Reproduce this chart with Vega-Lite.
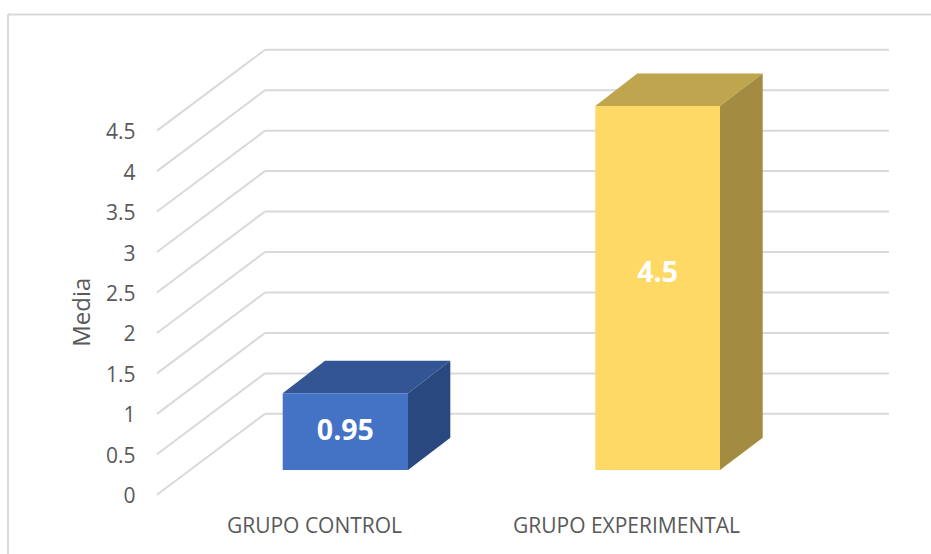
{
"$schema":"https://vega.github.io/schema/vega-lite/v6.json",
"width":732,"height":445,
"autosize":{"type":"none"},
"padding":{"left":157,"top":49.75,"right":42,"bottom":59.25},
"background":"white",
"config":{"view":{"stroke":null},"font":"Open Sans"},
"datasets":{
"wall":[
{"v":1.0,"xa":0.8429,"xb":2.8429},{"v":1.5,"xa":0.8429,"xb":2.8429},{"v":2.0,"xa":0.8429,"xb":2.8429},{"v":2.5,"xa":0.8429,"xb":2.8429},{"v":3.0,"xa":0.8429,"xb":2.8429},{"v":3.5,"xa":0.8429,"xb":2.8429},{"v":4.0,"xa":0.8429,"xb":2.8429},{"v":4.5,"xa":0.8429,"xb":2.8429},{"v":5.0,"xa":0.8429,"xb":2.8429},{"v":5.5,"xa":0.8429,"xb":2.8429}
],
"diag":[
{"xa":0.4968,"xb":0.8429,"ya":0,"yb":1.0},{"xa":0.4968,"xb":0.8429,"ya":0.5,"yb":1.5},{"xa":0.4968,"xb":0.8429,"ya":1,"yb":2.0},{"xa":0.4968,"xb":0.8429,"ya":1.5,"yb":2.5},{"xa":0.4968,"xb":0.8429,"ya":2,"yb":3.0},{"xa":0.4968,"xb":0.8429,"ya":2.5,"yb":3.5},{"xa":0.4968,"xb":0.8429,"ya":3,"yb":4.0},{"xa":0.4968,"xb":0.8429,"ya":3.5,"yb":4.5},{"xa":0.4968,"xb":0.8429,"ya":4,"yb":5.0},{"xa":0.4968,"xb":0.8429,"ya":4.5,"yb":5.5}
],
"front":[
{"grupo":"GRUPO CONTROL","media":0.95,"xl":0.8997,"xr":1.3013,"base":0.305,"top":1.255,"xc":1.1005,"yc":0.79},
{"grupo":"GRUPO EXPERIMENTAL","media":4.5,"xl":1.9016,"xr":2.3013,"base":0.305,"top":4.805,"xc":2.1015,"yc":2.745}
],
"topface":[
{"face":"topA","y":1.255,"xl":0.8997,"xr":1.3013},{"face":"topA","y":1.655,"xl":1.0353,"xr":1.4369},
{"face":"topB","y":4.805,"xl":1.9016,"xr":2.3013},{"face":"topB","y":5.205,"xl":2.0362,"xr":2.4381}
],
"sideface":[
{"face":"sideA","x":1.3013,"yb":0.305,"yt":1.255},{"face":"sideA","x":1.4369,"yb":0.705,"yt":1.655},
{"face":"sideB","x":2.3013,"yb":0.305,"yt":4.805},{"face":"sideB","x":2.4381,"yb":0.705,"yt":5.205}
],
"frame":[
{"xa":0.0192,"xb":2.9776,"ya":5.936,"yb":5.936},
{"xa":0.0192,"xb":0.0192,"ya":5.936,"yb":-0.733}
]
},
"data":{"name":"wall"},
"layer":[
{"data":{"name":"frame"},"mark":{"type":"rule","color":"#d9d9d9","strokeWidth":2,"clip":false},
 "encoding":{"x":{"field":"xa","type":"quantitative","scale":{"domain":[0.4968,2.8429],"nice":false,"zero":false},
   "axis":{"values":[1,2],"labelExpr":"datum.value==1?'GRUPO CONTROL':'GRUPO EXPERIMENTAL'","title":null,"grid":false,"domain":false,"ticks":false,"labelPadding":31.5,"labelFontSize":21,"labelLimit":400,"labelColor":"#595959","labelFont":"Open Sans","labelBaseline":"middle"}},
  "x2":{"field":"xb"},
  "y":{"field":"ya","type":"quantitative","scale":{"domain":[0,5.5],"nice":false,"zero":false},
   "axis":{"values":[0,0.5,1,1.5,2,2.5,3,3.5,4,4.5],"format":"~g","title":"Media","grid":false,"domain":false,"ticks":false,"labelPadding":22,"labelOffset":2,"labelFontSize":21,"labelColor":"#595959","labelFont":"Open Sans","titleFontSize":24,"titleFontWeight":"normal","titleColor":"#595959","titleFont":"Open Sans","titleX":-75,"titleY":262,"titleAngle":-90,"titleAlign":"center","titleBaseline":"middle"}},
  "y2":{"field":"yb"}}},
{"mark":{"type":"rule","color":"#d9d9d9","strokeWidth":2},
 "encoding":{"x":{"field":"xa","type":"quantitative"},"x2":{"field":"xb"},"y":{"field":"v","type":"quantitative"}}},
{"data":{"name":"diag"},"mark":{"type":"rule","color":"#d9d9d9","strokeWidth":2},
 "encoding":{"x":{"field":"xa","type":"quantitative"},"x2":{"field":"xb"},"y":{"field":"ya","type":"quantitative"},"y2":{"field":"yb"}}},
{"data":{"name":"topface"},"mark":{"type":"area","orient":"horizontal"},
 "encoding":{"y":{"field":"y","type":"quantitative"},"x":{"field":"xl","type":"quantitative"},"x2":{"field":"xr"},
  "color":{"field":"face","type":"nominal","legend":null,"scale":{"domain":["topA","topB","sideA","sideB"],"range":["#335593","#bfa54d","#2a4880","#a38c42"]}}}},
{"data":{"name":"sideface"},"mark":{"type":"area","orient":"vertical"},
 "encoding":{"x":{"field":"x","type":"quantitative"},"y":{"field":"yb","type":"quantitative"},"y2":{"field":"yt"},
  "color":{"field":"face","type":"nominal","legend":null}}},
{"data":{"name":"front"},"mark":{"type":"rect"},
 "encoding":{"x":{"field":"xl","type":"quantitative"},"x2":{"field":"xr"},"y":{"field":"base","type":"quantitative"},"y2":{"field":"top"},
  "fill":{"field":"grupo","type":"nominal","legend":null,"scale":{"domain":["GRUPO CONTROL","GRUPO EXPERIMENTAL"],"range":["#4472c4","#ffd966"]}}}},
{"data":{"name":"front"},"mark":{"type":"text","color":"white","fontWeight":"bold","fontSize":28.5,"font":"Open Sans","align":"center","baseline":"middle"},
 "encoding":{"x":{"field":"xc","type":"quantitative"},"y":{"field":"yc","type":"quantitative"},"text":{"field":"media","type":"quantitative"}}}
]
}
